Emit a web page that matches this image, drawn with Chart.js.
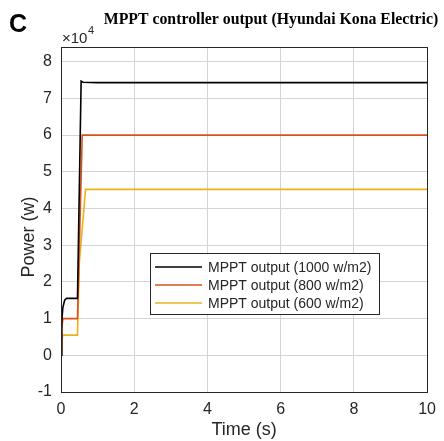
<!DOCTYPE html>
<html>
<head>
<meta charset="utf-8">
<script src="https://cdn.jsdelivr.net/npm/chart.js@4.4.1/dist/chart.umd.min.js"></script>
<style>
  html, body { margin: 0; padding: 0; background: #fff; }
  #wrap { width: 444px; height: 441px; }
</style>
</head>
<body>
<div id="wrap"><canvas id="myChart" width="444" height="441"></canvas></div>
<script>
'use strict';
// values, power in watts
let seriesNames = ['MPPT output (1000 w/m2)', 'MPPT output (800 w/m2)', 'MPPT output (600 w/m2)'];
let seriesColors = ['#000000', '#d95319', '#edb120'];

let time1000 = [0, 0.02, 0.05, 0.1, 0.15, 0.45, 0.55, 0.6, 1, 2, 3, 4, 5, 6, 7, 8, 9, 10];
let power1000 = [0, 9000, 13000, 15000, 15500, 15500, 74700, 74400, 74300, 74300, 74300, 74300, 74300, 74300, 74300, 74300, 74300, 74300];

let time800 = [0, 0.02, 0.05, 0.45, 0.58, 1, 2, 4, 6, 8, 10];
let power800 = [0, 7000, 10000, 10000, 60000, 60000, 60000, 60000, 60000, 60000, 60000];

let time600 = [0, 0.02, 0.05, 0.45, 0.5, 0.67, 1, 2, 4, 6, 8, 10];
let power600 = [0, 4000, 5500, 5500, 25000, 45200, 45200, 45200, 45200, 45200, 45200, 45200];

let xTicks = [0, 2, 4, 6, 8, 10];
let yTicks = [-10000, 0, 10000, 20000, 30000, 40000, 50000, 60000, 70000, 80000];
let yMin = -10000;
let yMax = 84000;

function toPoints(t, p) {
  let pts = [];
  for (let i = 0; i < t.length; i++) {
    pts.push({ x: t[i], y: p[i] });
  }
  return pts;
}

let allTimes = [time1000, time800, time600];
let allPowers = [power1000, power800, power600];
let datasets = [];
for (let i = 0; i < seriesNames.length; i++) {
  datasets.push({
    label: seriesNames[i],
    data: toPoints(allTimes[i], allPowers[i]),
    borderColor: seriesColors[i],
    backgroundColor: seriesColors[i],
    borderWidth: 1.6,
    pointRadius: 0,
    tension: 0,
    fill: false
  });
}

let sans = '"Liberation Sans", Arial, sans-serif';

// title, panel letter, exponent, y label, box and legend drawn by hand
let extras = {
  id: 'extras',
  afterDraw(chart) {
    let ctx = chart.ctx;
    let a = chart.chartArea;
    ctx.save();
    // box
    ctx.strokeStyle = '#262626';
    ctx.lineWidth = 1;
    ctx.strokeRect(Math.round(a.left) + 0.5, Math.round(a.top) + 0.5, Math.round(a.right - a.left), Math.round(a.bottom - a.top));

    // panel letter
    ctx.fillStyle = '#000';
    ctx.font = 'bold 25px ' + sans;
    ctx.textBaseline = 'alphabetic';
    ctx.textAlign = 'left';
    ctx.fillText('C', 9, 32);

    // title
    ctx.font = 'bold 15.8px "Liberation Serif", "Times New Roman", serif';
    ctx.textAlign = 'center';
    ctx.fillText('MPPT controller output (Hyundai Kona Electric)', 271, 24);

    // x10^4
    ctx.fillStyle = '#262626';
    ctx.textAlign = 'left';
    ctx.font = '15px ' + sans;
    ctx.fillText('\u00d710', 62, 43);
    ctx.font = '11px ' + sans;
    ctx.fillText('4', 88, 34);

    // y axis label
    ctx.save();
    ctx.translate(29, 237);
    ctx.rotate(-Math.PI / 2);
    ctx.textAlign = 'center';
    ctx.textBaseline = 'middle';
    ctx.font = '18px ' + sans;
    ctx.fillText('Power (w)', 0, 0);
    ctx.restore();

    // legend
    let lx = 150, ly = 253, lw = 229, lh = 61;
    ctx.fillStyle = '#fff';
    ctx.fillRect(lx, ly, lw, lh);
    ctx.strokeStyle = '#262626';
    ctx.strokeRect(lx + 0.5, ly + 0.5, lw, lh);
    ctx.font = '14px ' + sans;
    ctx.textBaseline = 'middle';
    let rows = [267, 285, 303];
    for (let i = 0; i < chart.data.datasets.length; i++) {
      let ds = chart.data.datasets[i];
      ctx.strokeStyle = ds.borderColor;
      ctx.lineWidth = 1.6;
      ctx.beginPath();
      ctx.moveTo(155, rows[i]);
      ctx.lineTo(202, rows[i]);
      ctx.stroke();
      ctx.fillStyle = '#262626';
      ctx.fillText(ds.label, 208, rows[i] + 1);
    }
    ctx.restore();
  }
};

let ctx = document.getElementById('myChart').getContext('2d');
let myChart = new Chart(ctx, {
  type: 'line',
  data: { datasets: datasets },
  options: {
    responsive: false,
    animation: false,
    layout: { padding: { left: 0, right: 12, top: 47, bottom: 0 } },
    plugins: {
      legend: { display: false },
      tooltip: { enabled: false }
    },
    scales: {
      x: {
        type: 'linear',
        min: 0,
        max: 10,
        afterBuildTicks: function (scale) {
          scale.ticks = xTicks.map(function (v) { return { value: v }; });
        },
        afterFit: function (scale) { scale.height = 49; },
        grid: { color: '#d4d4d4', drawTicks: false },
        border: { color: '#262626' },
        ticks: {
          padding: 8,
          color: '#262626',
          font: { family: sans, size: 16 },
          maxRotation: 0
        },
        title: {
          display: true,
          text: 'Time (s)',
          color: '#262626',
          font: { family: sans, size: 18 },
          padding: { top: 0, bottom: 0 }
        }
      },
      y: {
        type: 'linear',
        min: yMin,
        max: yMax,
        afterBuildTicks: function (scale) {
          scale.ticks = yTicks.map(function (v) { return { value: v }; });
        },
        afterFit: function (scale) { scale.width = 61; },
        grid: { color: '#d4d4d4', drawTicks: false },
        border: { color: '#262626' },
        ticks: {
          padding: 9,
          color: '#262626',
          font: { family: sans, size: 16 },
          callback: function (v) { return String(v / 10000); }
        }
      }
    }
  },
  plugins: [extras]
});
</script>
</body>
</html>
